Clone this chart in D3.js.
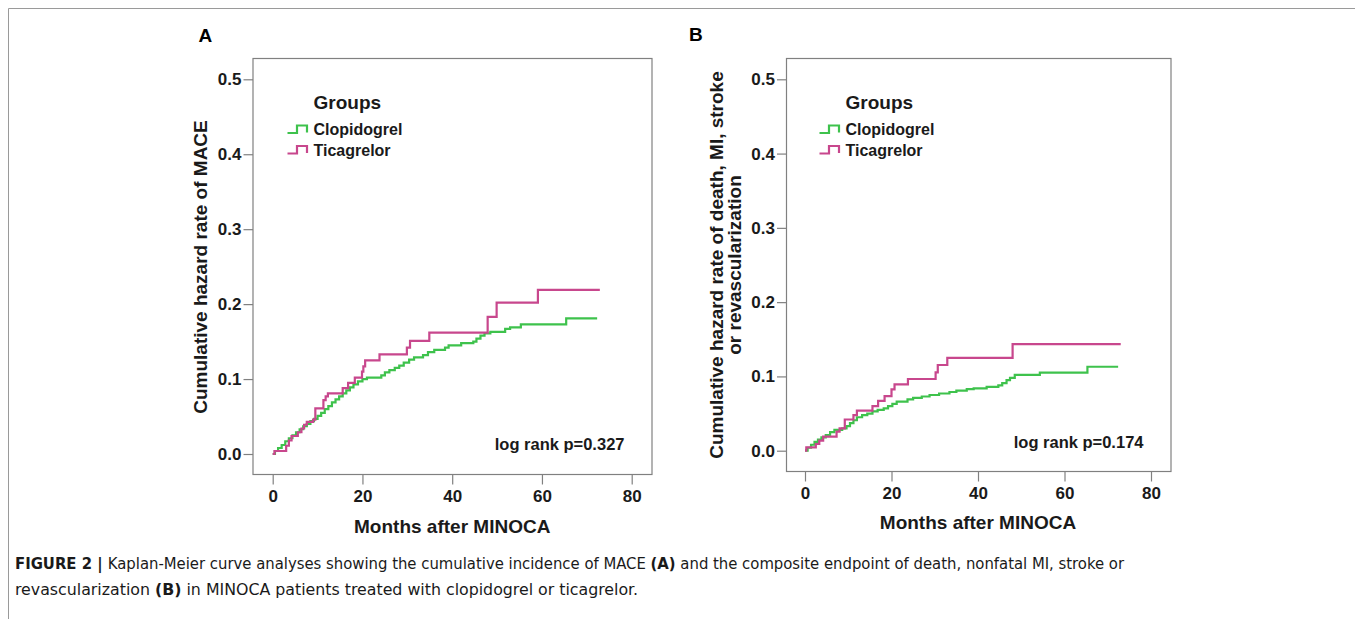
<!DOCTYPE html>
<html>
<head>
<meta charset="utf-8">
<script src="https://cdn.jsdelivr.net/npm/d3@7"></script>
<style>
  body { margin: 0; background: #fff; }
  svg { display: block; }
  .tick text { font-family: "Liberation Sans", Arial, sans-serif; font-weight: bold; font-size: 17px; fill: #1a1a1a; }
  .tick line, .domain { stroke: #808080; }
</style>
</head>
<body>
<svg id="fig" width="1355" height="619"></svg>
<script>
// ---- data (months, cumulative hazard) ----
var groups = ["Clopidogrel", "Ticagrelor"];
var colors = ["#3ec24c", "#c8478d"];
var xTicks = [0, 20, 40, 60, 80];
var yTicks = [0, 0.1, 0.2, 0.3, 0.4, 0.5];

// panel A : MACE
var clopA = [[0,0],[0.5,0.004],[1.2,0.008],[2.0,0.012],[2.8,0.017],[3.6,0.021],[4.4,0.025],[5.2,0.029],[6.0,0.033],
  [6.8,0.037],[7.6,0.040],[8.4,0.044],[9.2,0.047],[10.0,0.051],[10.8,0.055],[11.6,0.060],[12.4,0.064],[13.2,0.069],
  [14.0,0.073],[14.8,0.077],[15.6,0.081],[16.4,0.085],[17.2,0.089],[18.0,0.093],[19.0,0.097],[20.0,0.100],[21.0,0.102],
  [24.2,0.105],[25.0,0.109],[26.0,0.112],[27.2,0.115],[28.2,0.118],[29.2,0.122],[30.4,0.126],[31.5,0.129],[33.5,0.132],
  [34.6,0.136],[36.0,0.139],[38.4,0.142],[39.2,0.145],[42.0,0.148],[44.7,0.150],[45.4,0.154],[46.3,0.158],[47.2,0.161],
  [48.5,0.163],[51.8,0.167],[52.9,0.169],[55.3,0.173],[65.4,0.181]];
var clopAEnd = 72.3;
var ticaA = [[0,0],[0.4,0.004],[3.0,0.011],[3.6,0.018],[4.2,0.024],[5.6,0.029],[6.4,0.034],[7.0,0.039],[7.6,0.043],
  [9.0,0.046],[9.5,0.061],[11.3,0.072],[11.8,0.077],[12.3,0.081],[15.6,0.088],[16.8,0.095],[18.3,0.102],[19.9,0.110],
  [20.2,0.117],[20.6,0.125],[23.8,0.133],[29.9,0.142],[30.6,0.151],[34.9,0.162],[47.9,0.183],[49.9,0.202],[59.1,0.219]];
var ticaAEnd = 72.9;

// panel B : death, MI, stroke or revascularization
var clopB = [[0,0],[0.6,0.004],[1.4,0.008],[2.2,0.012],[3.0,0.015],[3.8,0.018],[4.8,0.021],[5.8,0.025],[6.8,0.028],
  [8.6,0.030],[9.6,0.033],[10.4,0.037],[11.2,0.041],[12.0,0.045],[13.2,0.048],[14.4,0.050],[15.6,0.053],[16.8,0.055],
  [18.2,0.057],[19.2,0.060],[20.2,0.063],[21.2,0.066],[23.7,0.069],[25.0,0.071],[27.0,0.073],[28.8,0.075],[31.0,0.077],
  [33.4,0.079],[35.0,0.081],[37.4,0.083],[39.0,0.084],[42.0,0.086],[44.7,0.088],[45.6,0.091],[46.6,0.095],[47.4,0.098],
  [48.5,0.102],[54.3,0.105],[65.3,0.113]];
var clopBEnd = 72.4;
var ticaB = [[0,0],[0.3,0.0045],[2.5,0.009],[3.3,0.0135],[4.2,0.019],[7.3,0.0256],[8.0,0.030],[9.2,0.042],[11.2,0.048],
  [12.0,0.054],[15.6,0.060],[16.9,0.067],[18.4,0.0736],[20.0,0.0826],[20.7,0.0894],[23.8,0.0965],[30.2,0.1055],
  [30.7,0.1154],[32.9,0.125],[48.0,0.1436]];
var ticaBEnd = 73.0;

var font = '"Liberation Sans", Arial, sans-serif';
var svg = d3.select("#fig");

// outer frame of the figure
svg.append("path").attr("d", "M8.5,619V8.5H1355").attr("fill", "none").attr("stroke", "#9a9a9a").attr("stroke-width", 1);

function panel(opt) {
  var x = d3.scaleLinear().domain([0, 80]).range(opt.xr);
  var y = d3.scaleLinear().domain([0, 0.5]).range(opt.yr);
  var b = opt.box;
  var g = svg.append("g");

  g.append("rect").attr("x", b[0] + 0.5).attr("y", b[1] + 0.5)
    .attr("width", b[2] - b[0]).attr("height", b[3] - b[1])
    .attr("fill", "none").attr("stroke", "#808080").attr("stroke-width", 1.2);

  var xAxis = d3.axisBottom(x).tickValues(xTicks).tickSize(10).tickSizeOuter(0).tickPadding(5).tickFormat(d3.format("d"));
  var gx = g.append("g").attr("transform", "translate(0," + (b[3] + 0.5) + ")").call(xAxis);
  gx.select(".domain").remove();

  var yAxis = d3.axisLeft(y).tickValues(yTicks).tickSize(9.5).tickSizeOuter(0).tickPadding(2).tickFormat(d3.format(".1f"));
  var gy = g.append("g").attr("transform", "translate(" + (b[0] + 0.5) + ",0)").call(yAxis);
  gy.select(".domain").remove();
  g.selectAll(".tick line").attr("stroke-width", 1.2);

  var line = d3.line().x(function(d) { return x(d[0]); }).y(function(d) { return y(d[1]); }).curve(d3.curveStepAfter);
  opt.series.forEach(function(s, i) {
    var pts = s.data.concat([[s.end, s.data[s.data.length - 1][1]]]);
    g.append("path").attr("d", line(pts)).attr("fill", "none")
      .attr("stroke", colors[i]).attr("stroke-width", 2.2).attr("stroke-linejoin", "miter");
  });

  // legend
  var lx = b[0] + opt.legDx;
  g.append("text").attr("x", lx + 26).attr("y", 108.5).text("Groups")
    .attr("font-family", font).attr("font-weight", "bold").attr("font-size", 19).attr("fill", "#1a1a1a");
  groups.forEach(function(name, i) {
    var yb = 133 + i * 20.5;
    g.append("path").attr("d", "M" + lx + "," + yb + "h9.5v-7.5h10v7")
      .attr("fill", "none").attr("stroke", colors[i]).attr("stroke-width", 2.2);
    g.append("text").attr("x", lx + 26).attr("y", yb + 2).text(name)
      .attr("font-family", font).attr("font-weight", "bold").attr("font-size", 16).attr("fill", "#1a1a1a");
  });

  g.append("text").attr("x", opt.pRight).attr("y", opt.pBase).attr("text-anchor", "end").text(opt.pText)
    .attr("font-family", font).attr("font-weight", "bold").attr("font-size", 16.5).attr("fill", "#1a1a1a");

  g.append("text").attr("x", (x(0) + x(80)) / 2).attr("y", opt.xtBase).attr("text-anchor", "middle")
    .text("Months after MINOCA").attr("font-family", font).attr("font-weight", "bold").attr("font-size", 19).attr("fill", "#1a1a1a");

  opt.yTitle.forEach(function(t, i) {
    g.append("text").attr("transform", "translate(" + opt.ytBase[i] + "," + opt.ytMid + ") rotate(-90)")
      .attr("text-anchor", "middle").text(t)
      .attr("font-family", font).attr("font-weight", "bold").attr("font-size", 19).attr("fill", "#1a1a1a");
  });

  g.append("text").attr("x", opt.lab[0]).attr("y", opt.lab[1]).text(opt.label)
    .attr("font-family", font).attr("font-weight", "bold").attr("font-size", 19).attr("fill", "#000");
}

panel({
  xr: [272.7, 631.7], yr: [454, 79.3], box: [252.5, 58, 651.5, 474],
  series: [{data: clopA, end: clopAEnd}, {data: ticaA, end: ticaAEnd}],
  legDx: 35, pText: "log rank p=0.327", pRight: 624.5, pBase: 449.5, xtBase: 533,
  yTitle: ["Cumulative hazard rate of MACE"], ytBase: [207], ytMid: 267,
  label: "A", lab: [198.5, 41.5]
});

panel({
  xr: [805, 1151], yr: [450.7, 79.3], box: [786, 58, 1170.5, 471],
  series: [{data: clopB, end: clopBEnd}, {data: ticaB, end: ticaBEnd}],
  legDx: 33.5, pText: "log rank p=0.174", pRight: 1143.5, pBase: 447.5, xtBase: 528.5,
  yTitle: ["Cumulative hazard rate of death, MI, stroke", "or revascularization"], ytBase: [722.5, 741], ytMid: 265,
  label: "B", lab: [689, 41]
});

// caption
var capFont = '"Liberation Sans Narrow", "DejaVu Sans Condensed", "Liberation Sans", sans-serif';
var cap1 = svg.append("text").attr("x", 15).attr("y", 568.5).attr("font-family", capFont).attr("font-size", 16).attr("fill", "#1a1a1a")
  .attr("textLength", 1109).attr("lengthAdjust", "spacingAndGlyphs");
cap1.append("tspan").attr("font-weight", "bold").text("FIGURE 2 | ");
cap1.append("tspan").text("Kaplan-Meier curve analyses showing the cumulative incidence of MACE ");
cap1.append("tspan").attr("font-weight", "bold").text("(A)");
cap1.append("tspan").text(" and the composite endpoint of death, nonfatal MI, stroke or");
var cap2 = svg.append("text").attr("x", 15).attr("y", 594.5).attr("font-family", capFont).attr("font-size", 16).attr("fill", "#1a1a1a")
  .attr("textLength", 623).attr("lengthAdjust", "spacingAndGlyphs");
cap2.append("tspan").text("revascularization ");
cap2.append("tspan").attr("font-weight", "bold").text("(B)");
cap2.append("tspan").text(" in MINOCA patients treated with clopidogrel or ticagrelor.");
</script>
</body>
</html>
